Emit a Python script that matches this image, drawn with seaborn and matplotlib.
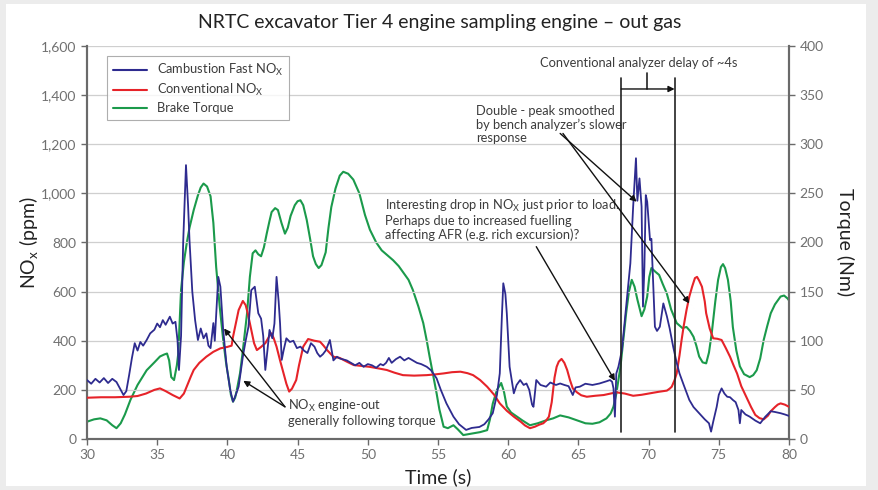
import matplotlib
matplotlib.use("Agg")
import matplotlib.pyplot as plt
import matplotlib.patches as mpatches
from matplotlib.lines import Line2D
from matplotlib.ticker import FuncFormatter
import seaborn as sns
import pandas as pd

# ---------------- data ----------------
fast_t = [30.0, 30.3, 30.6, 30.9, 31.2, 31.5, 31.8, 32.1, 32.4, 32.6, 32.8, 33.0, 33.2, 33.4, 33.6, 33.8, 34.0,
          34.25, 34.5, 34.8, 35.0, 35.2, 35.4, 35.6, 35.9, 36.1, 36.3, 36.45, 36.55, 36.7, 36.85, 37.05, 37.2,
          37.3, 37.5, 37.7, 37.9, 38.1, 38.3, 38.5, 38.65, 38.8, 39.0, 39.1, 39.35, 39.5, 39.7, 39.95, 40.2,
          40.4, 40.6, 40.8, 41.1, 41.3, 41.5, 41.7, 41.95, 42.2, 42.4, 42.55, 42.7, 42.85, 43.0, 43.2, 43.35,
          43.5, 43.65, 43.75, 43.87, 44.0, 44.2, 44.45, 44.7, 44.95, 45.2, 45.45, 45.7, 45.95, 46.2, 46.4,
          46.6, 46.8, 47.0, 47.3, 47.55, 47.8, 48.0, 48.5, 48.8, 49.1, 49.4, 49.7, 50.0, 50.3, 50.6, 50.9,
          51.1, 51.3, 51.5, 51.7, 52.0, 52.3, 52.6, 52.9, 53.2, 53.5, 53.8, 54.2, 54.5, 54.9, 55.2, 55.6,
          56.1, 56.5, 57.0, 57.4, 57.95, 58.3, 58.6, 58.9, 59.2, 59.4, 59.55, 59.65, 59.8, 59.9, 60.1, 60.4,
          60.6, 60.85, 61.1, 61.3, 61.5, 61.7, 61.8, 61.9, 62.0, 62.3, 62.7, 63.0, 63.4, 63.7, 64.0, 64.3,
          64.6, 64.8, 65.1, 65.5, 66.0, 66.5, 67.0, 67.25, 67.4, 67.5, 67.6, 67.7, 67.85, 68.1, 68.4, 68.7,
          68.9, 69.1, 69.2, 69.35, 69.5, 69.6, 69.7, 69.8, 69.9, 70.1, 70.2, 70.35, 70.45, 70.6, 70.8, 71.05,
          71.3, 71.5, 71.75, 72.0, 72.2, 72.5, 72.9, 73.2, 73.6, 74.0, 74.3, 74.45, 74.6, 74.85, 75.0, 75.2,
          75.4, 75.6, 75.8, 76.0, 76.2, 76.4, 76.5, 76.6, 76.9, 77.2, 77.6, 77.95, 78.3, 78.7, 79.0, 79.4,
          79.7, 80.0]
fast_nox = [240, 225, 245, 230, 248, 228, 245, 232, 200, 179, 195, 260, 330, 390, 360, 395, 380,
            403, 430, 445, 470, 455, 484, 465, 498, 470, 477, 400, 281, 420, 800, 1115, 950,
            810, 600, 484, 403, 450, 410, 430, 380, 370, 472, 400, 660, 620, 444, 294, 200,
            152, 180, 213, 335, 400, 457, 606, 620, 512, 490, 420, 281, 360, 444, 410, 470,
            660, 560, 471, 322, 360, 410, 395, 400, 370, 376, 360, 350, 390, 376, 350,
            335, 345, 360, 403, 320, 335, 328, 320, 310, 300, 310, 294, 305, 300, 290, 305,
            300, 310, 330, 310, 325, 335, 320, 330, 320, 310, 305, 294, 280, 247, 200, 145,
            91, 60, 37, 45, 49, 60, 80, 105, 180, 267, 500, 634, 590, 512, 294, 186,
            220, 240, 220, 226, 200, 140, 131, 186, 240, 220, 213, 230, 220, 226, 220, 215,
            179, 210, 213, 225, 220, 226, 235, 240, 233, 206, 91, 267, 294, 362, 539, 715,
            946, 1143, 970, 1061, 946, 539, 700, 993, 966, 810, 815, 600, 457, 440, 457, 552,
            500, 450, 376, 310, 267, 220, 159, 130, 105, 80, 64, 30, 70, 131, 180, 206,
            185, 172, 170, 159, 150, 118, 64, 118, 100, 91, 75, 64, 90, 113, 110, 105,
            100, 94]

conv_t = [30.0, 31.0, 32.0, 33.0, 33.6, 34.2, 34.8, 35.2, 35.6, 36.1, 36.6, 36.9, 37.1, 37.4, 37.6, 38.0,
          38.5, 39.0, 39.5, 40.0, 40.3, 40.4, 40.6, 40.8, 41.1, 41.3, 41.45, 41.7, 41.9, 42.1, 42.4, 42.7,
          43.0, 43.15, 43.3, 43.5, 43.75, 44.0, 44.2, 44.4, 44.6, 44.9, 45.1, 45.4, 45.75, 46.2, 46.6,
          46.85, 47.1, 47.55, 48.0, 48.5, 49.0, 49.5, 50.1, 50.7, 51.35, 51.9, 52.5, 53.3, 54.2, 54.8,
          55.4, 56.0, 56.6, 57.1, 57.5, 58.0, 58.5, 59.0, 59.4, 59.9, 60.4, 60.9, 61.2, 61.55, 61.9, 62.2,
          62.5, 62.7, 62.9, 63.1, 63.3, 63.45, 63.6, 63.8, 64.0, 64.2, 64.4, 64.6, 64.9, 65.2, 65.6, 66.2,
          66.8, 67.3, 67.7, 68.3, 68.9, 69.5, 70.1, 70.7, 71.3, 71.5, 71.65, 71.85, 72.0, 72.2, 72.35, 72.5,
          72.7, 72.9, 73.1, 73.3, 73.45, 73.6, 73.8, 74.0, 74.1, 74.35, 74.6, 74.9, 75.2, 75.5, 75.8, 76.05,
          76.3, 76.6, 76.95, 77.3, 77.6, 77.9, 78.2, 78.5, 78.7, 79.0, 79.2, 79.4, 79.7, 80.0]
conv_nox = [168, 170, 170, 172, 175, 185, 200, 206, 195, 179, 165, 185, 213, 255, 281, 310,
            335, 355, 369, 375, 380, 416, 470, 525, 562, 545, 512, 444, 390, 362, 375, 390,
            420, 430, 410, 376, 320, 267, 225, 193, 205, 240, 300, 376, 407, 400, 396,
            380, 362, 335, 330, 315, 301, 298, 294, 288, 281, 270, 260, 258, 260, 263,
            267, 272, 274, 268, 260, 240, 213, 180, 145, 115, 91, 70, 55, 44, 50, 58,
            64, 75, 91, 150, 250, 294, 315, 326, 310, 281, 240, 206, 190, 178, 172, 176,
            179, 185, 190, 185, 176, 180, 186, 192, 197, 205, 213, 240, 267, 340, 403, 460,
            525, 580, 620, 655, 660, 645, 620, 560, 512, 450, 410, 408, 403, 370, 335, 300,
            267, 215, 172, 130, 98, 85, 80, 95, 113, 130, 140, 145, 140, 131]

torque_t = [30.0, 30.5, 30.95, 31.4, 31.8, 32.1, 32.4, 32.7, 33.1, 33.6, 34.25, 34.8, 35.2, 35.5, 35.7,
            35.85, 36.0, 36.2, 36.4, 36.5, 36.6, 36.7, 36.9, 37.1, 37.3, 37.6, 37.9, 38.1, 38.3, 38.55,
            38.8, 39.0, 39.2, 39.45, 39.7, 39.9, 40.1, 40.25, 40.4, 40.55, 40.7, 40.9, 41.1, 41.4, 41.6,
            41.8, 42.0, 42.2, 42.4, 42.6, 42.8, 43.0, 43.15, 43.4, 43.6, 43.85, 44.1, 44.3, 44.5, 44.8,
            45.0, 45.2, 45.4, 45.65, 45.9, 46.1, 46.3, 46.5, 46.7, 47.0, 47.2, 47.4, 47.7, 48.0, 48.25,
            48.6, 48.97, 49.4, 49.8, 50.15, 50.6, 50.99, 51.4, 51.8, 52.2, 52.5, 52.9, 53.2, 53.6, 53.95,
            54.2, 54.4, 54.65, 54.9, 55.1, 55.4, 55.7, 56.1, 56.4, 56.8, 57.2, 57.5, 58.0, 58.5, 58.7,
            58.9, 59.2, 59.5, 59.7, 59.9, 60.2, 60.6, 61.0, 61.55, 62.1, 62.7, 63.2, 63.7, 64.3, 64.9,
            65.5, 66.0, 66.5, 67.0, 67.3, 67.5, 67.7, 68.0, 68.4, 68.6, 68.8, 69.0, 69.2, 69.5, 69.7,
            69.9, 70.05, 70.2, 70.5, 70.75, 71.0, 71.3, 71.6, 72.0, 72.4, 72.7, 72.95, 73.2, 73.4, 73.6,
            73.85, 74.1, 74.3, 74.5, 74.75, 74.95, 75.15, 75.3, 75.45, 75.65, 75.85, 76.0, 76.25, 76.5,
            76.8, 77.2, 77.45, 77.7, 77.95, 78.2, 78.45, 78.7, 79.0, 79.4, 79.65, 79.9, 80.0]
torque_nm = [17.6, 20, 21, 19, 14, 11, 16, 25, 40, 55, 70, 78, 84, 86, 87,
             80, 63, 60, 75, 87, 120, 152, 180, 199, 215, 233, 248, 256, 260, 257,
             247, 220, 175, 135, 101, 78, 60, 45, 38, 42, 52, 67, 90, 128, 165,
             189, 192, 188, 186, 195, 209, 222, 231, 235, 233, 220, 209, 215, 227, 238,
             242, 243, 238, 223, 203, 186, 178, 174, 177, 190, 215, 236, 255, 268, 272,
             270, 264, 250, 228, 213, 200, 192, 187, 182, 176, 170, 162, 152, 135, 118,
             100, 84, 65, 46.5, 30, 12.5, 11, 14, 10, 4, 5, 5.7, 7, 9, 20,
             36, 50, 57, 48, 33, 27, 23, 19, 14, 16, 19, 21, 24, 22, 19,
             16, 15.5, 17, 21, 26, 33, 46, 74, 128, 150, 162, 155, 142, 125, 132,
             145, 165, 174, 170, 167, 158, 148, 132, 118, 113, 114, 110, 104, 95, 84,
             78, 77, 88, 108, 140, 162, 175, 178, 174, 162, 140, 114, 90, 74,
             66, 63, 65, 70, 82, 101, 115, 128, 137, 145, 146, 143, 141]

series_labels = ["Cambustion Fast NO$_\\mathregular{X}$", "Conventional NO$_\\mathregular{X}$", "Brake Torque"]
left_ticks = [0, 200, 400, 600, 800, 1000, 1200, 1400, 1600]
right_ticks = [0, 50, 100, 150, 200, 250, 300, 350, 400]
x_ticks = [30, 35, 40, 45, 50, 55, 60, 65, 70, 75, 80]

# ---------------- style ----------------
sns.set_theme(style="white")
plt.rcParams['font.family'] = ['Lato', 'DejaVu Sans']
plt.rcParams['mathtext.fontset'] = 'custom'
plt.rcParams['mathtext.rm'] = 'Lato'

BLUE = "#2e2b8f"
RED = "#e62329"
GREEN = "#1b9a4b"
TICK_C = "#707070"
SPINE_C = "#6a6a6a"
TXT_C = "#3c3c3c"

fig = plt.figure(figsize=(8.79, 4.90), dpi=100)
fig.patch.set_facecolor("#ececec")
fig.patches.append(mpatches.Rectangle((6 / 879, 4 / 490), 860 / 879, 482 / 490,
                                      transform=fig.transFigure, facecolor="white",
                                      edgecolor="none", zorder=-10))

ax = fig.add_axes([87 / 879, 51 / 490, 702 / 879, 393 / 490])
ax.set_facecolor("none")
ax2 = ax.twinx()

df_fast = pd.DataFrame({"t": fast_t, "v": fast_nox})
df_conv = pd.DataFrame({"t": conv_t, "v": conv_nox})
df_tq = pd.DataFrame({"t": torque_t, "v": torque_nm})

sns.lineplot(data=df_tq, x="t", y="v", ax=ax2, color=GREEN, lw=1.5, sort=False, estimator=None, zorder=2)
sns.lineplot(data=df_conv, x="t", y="v", ax=ax, color=RED, lw=1.5, sort=False, estimator=None, zorder=3)
sns.lineplot(data=df_fast, x="t", y="v", ax=ax, color=BLUE, lw=1.3, sort=False, estimator=None, zorder=4)

ax.set_zorder(ax2.get_zorder() + 1)

ax.set_xlim(30, 80)
ax.set_ylim(0, 1600)
ax2.set_ylim(0, 400)
ax.set_xticks(x_ticks)
ax.set_yticks(left_ticks)
ax2.set_yticks(right_ticks)
ax.yaxis.set_major_formatter(FuncFormatter(lambda v, p: f"{int(v):,}"))

ax.grid(axis="y", color="#cfcfcf", lw=0.9)
ax.set_axisbelow(True)
ax2.grid(False)

for a in (ax, ax2):
    a.spines["top"].set_visible(False)
    for s in ("left", "right", "bottom"):
        a.spines[s].set_color(SPINE_C)
        a.spines[s].set_linewidth(1.5)
    a.tick_params(axis="both", colors=SPINE_C, labelcolor=TICK_C, labelsize=10,
                  length=4, width=1, direction="out")
ax.tick_params(left=True, bottom=True)
ax2.tick_params(right=True)

ax.set_xlabel("Time (s)", fontsize=14, color="#222222", labelpad=5)
ax.set_ylabel("NO$_\\mathregular{x}$ (ppm)", fontsize=14, color="#222222", labelpad=0)
ax2.set_ylabel("Torque (Nm)", fontsize=14, color="#222222", rotation=270, labelpad=22)

fig.text(0.5, 0.955, "NRTC excavator Tier 4 engine sampling engine \u2013 out gas",
         ha="center", va="center", fontsize=14, color="#222222")

# legend
handles = [Line2D([], [], color=BLUE, lw=1.5), Line2D([], [], color=RED, lw=1.5),
           Line2D([], [], color=GREEN, lw=1.5)]
leg = ax.legend(handles, series_labels, loc="upper left", bbox_to_anchor=(0.02, 0.99),
                fontsize=9.3, frameon=True, fancybox=False, edgecolor="#9a9a9a",
                handlelength=2.6, borderpad=0.45, labelspacing=0.3, handletextpad=0.8)
leg.get_frame().set_linewidth(0.8)
for t in leg.get_texts():
    t.set_color(TXT_C)

# annotations
arrow_kw = dict(arrowstyle="-|>", color="#111111", lw=1.0, mutation_scale=9,
                shrinkA=0, shrinkB=0)

# delay bracket
ax.plot([68.05, 68.05], [30, 1470], color="#222222", lw=1.2, zorder=5)
ax.plot([71.85, 71.85], [30, 1470], color="#222222", lw=1.2, zorder=5)
ax.plot([69.9, 69.9], [1425, 1490], color="#222222", lw=1.2, zorder=5)
ax.annotate("", xy=(71.85, 1425), xytext=(68.05, 1425), arrowprops=arrow_kw, zorder=6)
ax.text(69.3, 1530, "Conventional analyzer delay of ~4s", ha="center", va="center",
        fontsize=9.3, color=TXT_C)

# double peak
ax.text(57.7, 1200, "Double - peak smoothed\nby bench analyzer\u2019s slower\nresponse",
        ha="left", va="bottom", fontsize=9.3, color=TXT_C, linespacing=1.15)
ax.annotate("", xy=(69.15, 966), xytext=(63.7, 1244), arrowprops=arrow_kw, zorder=6)
ax.annotate("", xy=(72.9, 552), xytext=(63.9, 1244), arrowprops=arrow_kw, zorder=6)

# interesting drop
ax.text(51.25, 805, "Interesting drop in NO$_\\mathregular{X}$ just prior to load.\n"
        "Perhaps due to increased fuelling\naffecting AFR (e.g. rich excursion)?",
        ha="left", va="bottom", fontsize=9.3, color=TXT_C, linespacing=1.15)
ax.annotate("", xy=(67.6, 237), xytext=(62.0, 783), arrowprops=arrow_kw, zorder=6)

# engine-out
ax.text(44.35, 110, "NO$_\\mathregular{X}$ engine-out\ngenerally following torque",
        ha="left", va="center", fontsize=9.3, color=TXT_C, linespacing=1.1)
ax.annotate("", xy=(39.76, 450), xytext=(44.1, 131), arrowprops=arrow_kw, zorder=6)
ax.annotate("", xy=(41.13, 237), xytext=(44.1, 131), arrowprops=arrow_kw, zorder=6)

fig.savefig("out.png", dpi=100, facecolor=fig.get_facecolor())
